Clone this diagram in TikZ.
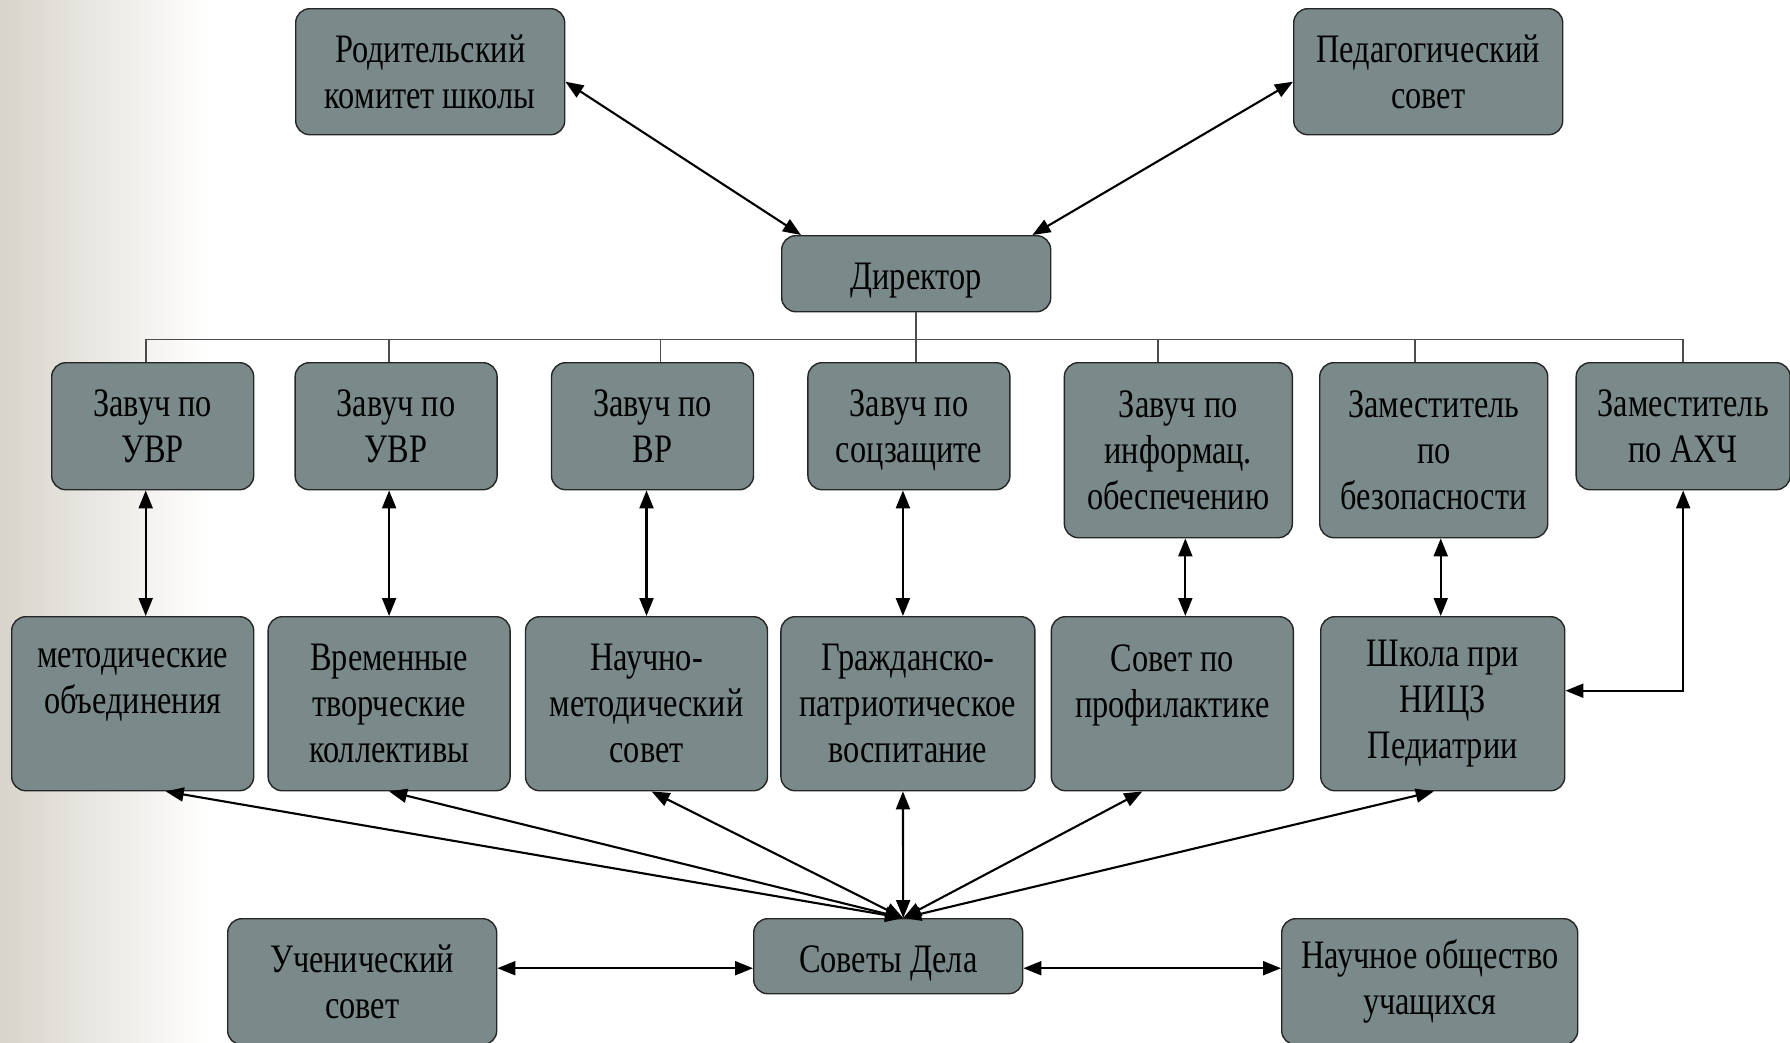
\documentclass[tikz,border=0pt]{standalone}
\usepackage{fontspec}
\setmainfont{Liberation Serif}[FakeStretch=0.8]
\usepackage{tikz}
\usetikzlibrary{positioning,arrows.meta}
\definecolor{boxgray}{RGB}{122,138,138}
\definecolor{bgleft}{RGB}{216,212,203}
\tikzset{
    unit/.style={
        draw=black!85,
        fill=boxgray,
        rounded corners=4pt,
        align=center,
        inner sep=1pt,
        font=\fontsize{11.5}{13.1}\selectfont
    },
    wide/.style={unit, minimum width=2.69cm, minimum height=1.26cm},
    oneline/.style={text height=9.1pt, text depth=0pt},
    deputy/.style={unit, minimum width=2.02cm, minimum height=1.27cm},
    deputytall/.style={unit, minimum width=2.28cm, minimum height=1.75cm},
    council/.style={unit, minimum width=2.42cm, minimum height=1.74cm},
    link/.style={
        {Triangle[length=1.8mm,width=1.4mm]}-{Triangle[length=1.8mm,width=1.4mm]},
        line width=0.6pt
    },
    bus/.style={draw=black!70, line width=0.5pt}
}

\begin{document}
\begin{tikzpicture}
    \useasboundingbox (0,0) rectangle (17.9,-10.42);
    \shade[left color=bgleft, right color=white] (0,0) rectangle (2.1,-10.42);

    % top
    \node[wide, anchor=north west] (ParentCommittee) at (2.95,-0.08) {Родительский\\комитет школы};
    \node[wide, anchor=north west] (PedCouncil) at (12.93,-0.08) {Педагогический\\совет};
    \node[wide, oneline, minimum height=0.76cm, anchor=north west] (Director) at (7.81,-2.35) {Директор};

    % deputies
    \node[deputy, anchor=north west] (ZavUVRa) at (0.51,-3.62) {Завуч по\\УВР};
    \node[deputy, right=0.40cm of ZavUVRa] (ZavUVRb) {Завуч по\\УВР};
    \node[deputy, right=0.53cm of ZavUVRb] (ZavVR) {Завуч по\\ВР};
    \node[deputy, text depth=0pt, right=0.53cm of ZavVR] (ZavSoc) {Завуч по\\соцзащите};
    \node[deputytall, right=0.53cm of ZavSoc.north east, anchor=north west] (ZavInf) {Завуч по\\информац.\\обеспечению};
    \node[deputytall, right=0.26cm of ZavInf] (DepSafety) {Заместитель\\по\\безопасности};
    \node[deputy, minimum width=2.14cm, right=0.27cm of DepSafety.north east, anchor=north west] (DepAHCh) {Заместитель\\по АХЧ};

    % councils
    \node[council, anchor=north west] (MethodUnions) at (0.11,-6.16) {методические\\объединения\\\phantom{x}};
    \node[council, right=0.13cm of MethodUnions] (CreativeTeams) {Временные\\творческие\\коллективы};
    \node[council, right=0.14cm of CreativeTeams] (SciMethod) {Научно-\\методический\\совет};
    \node[council, minimum width=2.54cm, right=0.12cm of SciMethod] (Patriotic) {Гражданско-\\патриотическое\\воспитание};
    \node[council, right=0.15cm of Patriotic] (Prevention) {Совет по\\профилактике\\\phantom{x}};
    \node[council, minimum width=2.44cm, right=0.26cm of Prevention] (NICZSchool) {Школа при\\НИЦЗ\\Педиатрии};

    % bottom
    \node[wide, anchor=north west] (StudentCouncil) at (2.27,-9.18) {Ученический\\совет};
    \node[wide, oneline, minimum height=0.75cm, anchor=north west] (Councils) at (7.53,-9.18) {Советы Дела};
    \node[wide, minimum width=2.96cm, anchor=north west] (SciSociety) at (12.81,-9.18) {Научное общество\\учащихся};

    \draw[link] ([yshift=-0.1cm]ParentCommittee.east) -- ([xshift=0.2cm]Director.north west);
    \draw[link] ([yshift=-0.1cm]PedCouncil.west) -- ([xshift=-0.19cm]Director.north east);

    \foreach \n/\s in {ZavUVRa/-0.07,ZavUVRb/-0.07,ZavVR/0.08,ZavSoc/0.07,
                       ZavInf/-0.2,DepSafety/-0.19,DepAHCh/0}
        \draw[bus] (Director.south) -- ++(0,-0.27) -| ([xshift=\s cm]\n.north);

    \foreach \a/\b/\s in {ZavUVRa/MethodUnions/-0.07,ZavUVRb/CreativeTeams/-0.07,
                          ZavVR/SciMethod/-0.06,ZavSoc/Patriotic/-0.06,
                          ZavInf/Prevention/0.07,DepSafety/NICZSchool/0.07} {
        \coordinate (Up) at ([xshift=\s cm]\a.south);
        \draw[link] (Up) -- (Up |- \b.north);
    }

    \draw[link] (DepAHCh.south) |- ([yshift=0.13cm]NICZSchool.east);

    \foreach \t/\s in {MethodUnions/0.33,CreativeTeams/0,SciMethod/0.05,
                       Patriotic/-0.05,Prevention/-0.3,NICZSchool/-0.09}
        \draw[link] ([xshift=0.15cm]Councils.north) -- ([xshift=\s cm]\t.south);

    \coordinate (LinkL) at ([yshift=-0.12cm]Councils.west);
    \coordinate (LinkR) at ([yshift=-0.12cm]Councils.east);
    \draw[link] (LinkL) -- (LinkL -| StudentCouncil.east);
    \draw[link] (LinkR) -- (LinkR -| SciSociety.west);
\end{tikzpicture}
\end{document}
